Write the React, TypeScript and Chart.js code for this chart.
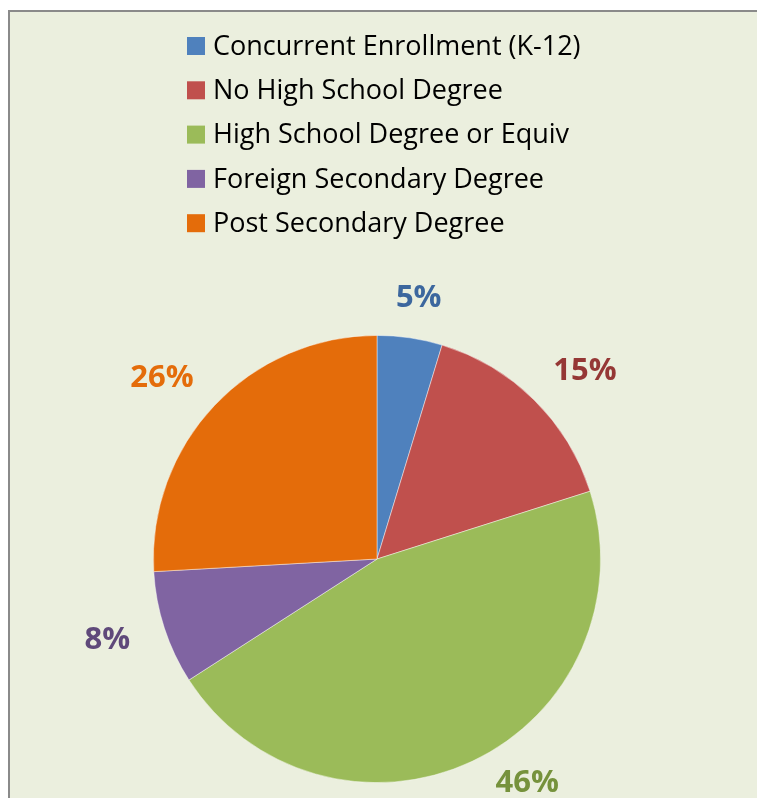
import React, { useEffect, useRef } from "react";
import { Chart, registerables } from "chart.js";

Chart.register(...registerables);

const categories = [
  "Concurrent Enrollment (K-12)",
  "No High School Degree",
  "High School Degree or Equiv",
  "Foreign Secondary Degree",
  "Post Secondary Degree",
];
const shares = [4.7, 15.4, 45.8, 8.2, 25.9];
const pctLabels = ["5%", "15%", "46%", "8%", "26%"];
const sliceColors = ["#4F81BD", "#C0504D", "#9BBB59", "#8064A2", "#E46C0A"];
const labelColors = ["#3C679E", "#953735", "#76923C", "#5F497A", "#E46C0A"];

const FONT = "'Open Sans', 'DejaVu Sans', sans-serif";

const legendPlugin = {
  id: "sideLegend",
  afterDraw(chart: any) {
    const ctx = chart.ctx;
    const labels = chart.data.labels as string[];
    const colors = chart.data.datasets[0].backgroundColor as string[];
    ctx.save();
    ctx.font = `27px ${FONT}`;
    ctx.textBaseline = "middle";
    ctx.textAlign = "left";
    const boxX = 177;
    const textX = 203;
    const top = 34;
    const step = 44.3;
    labels.forEach((lab, i) => {
      const cy = top + i * step;
      ctx.fillStyle = colors[i];
      ctx.fillRect(boxX, cy - 9, 18, 18);
      ctx.fillStyle = "#000000";
      ctx.fillText(lab, textX, cy + 1);
    });
    ctx.restore();
  },
};

const pctPlugin = {
  id: "pctLabels",
  afterDatasetsDraw(chart: any) {
    const ctx = chart.ctx;
    const meta = chart.getDatasetMeta(0);
    ctx.save();
    ctx.font = `bold 31px ${FONT}`;
    ctx.textBaseline = "middle";
    ctx.textAlign = "center";
    meta.data.forEach((arc: any, i: number) => {
      const { x, y, startAngle, endAngle, outerRadius } = arc.getProps(
        ["x", "y", "startAngle", "endAngle", "outerRadius"],
        true
      );
      const mid = (startAngle + endAngle) / 2;
      const dx = Math.cos(mid);
      const dy = Math.sin(mid);
      const txt = pctLabels[i];
      const w = ctx.measureText(txt).width;
      const h = 24;
      const r = outerRadius + 28;
      let cx = x + dx * r + dx * w * 0.7;
      let cy = y + dy * r + (dy * h) / 2;
      const maxY = chart.height - 19;
      if (cy > maxY) {
        const d = Math.hypot(cx - x, cy - y);
        const s = (maxY - y) / d;
        const c = Math.sqrt(Math.max(0, 1 - s * s)) * Math.sign(cx - x || 1);
        cx = x + d * c;
        cy = maxY;
      }
      ctx.fillStyle = labelColors[i];
      ctx.fillText(txt, cx, cy);
    });
    ctx.restore();
  },
};

export default function App() {
  const ref = useRef<HTMLCanvasElement | null>(null);

  useEffect(() => {
    document.documentElement.style.overflow = "hidden";
    document.body.style.overflow = "hidden";
    if (!ref.current) return;
    const chart = new Chart(ref.current, {
      type: "pie",
      data: {
        labels: categories,
        datasets: [
          {
            data: shares,
            backgroundColor: sliceColors,
            borderColor: "rgba(255,255,255,0.55)",
            borderWidth: 0.8,
          },
        ],
      },
      options: {
        responsive: false,
        animation: false,
        layout: { padding: { top: 323, bottom: 19, left: 100, right: 132 } },
        plugins: {
          legend: { display: false },
          tooltip: { enabled: false },
        },
      },
      plugins: [legendPlugin, pctPlugin],
    });
    return () => chart.destroy();
  }, []);

  return (
    <div
      style={{
        position: "absolute",
        left: 8,
        top: 10,
        width: 770,
        height: 794,
        border: "2px solid #8A8A8A",
        background: "#EBEFDE",
        boxSizing: "border-box",
        overflow: "hidden",
      }}
    >
      <canvas ref={ref} width={766} height={790} style={{ display: "block" }} />
    </div>
  );
}
